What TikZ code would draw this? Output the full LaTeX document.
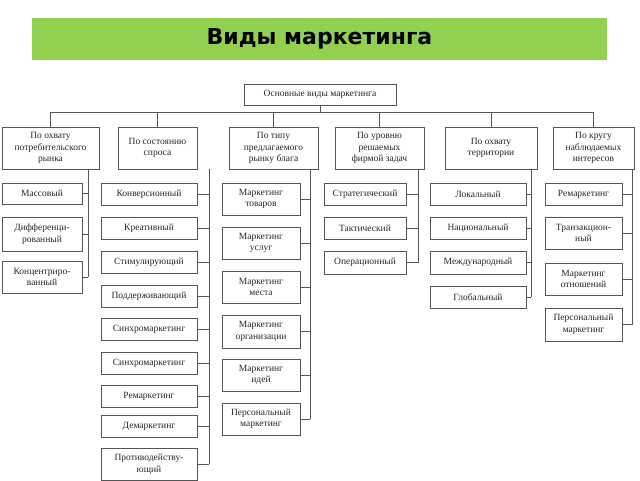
\documentclass[tikz,border=0pt]{standalone}
\usepackage{fontspec}
\setmainfont{Liberation Serif}
\newfontfamily\titlefont{DejaVu Sans}
\definecolor{bannergreen}{HTML}{92D050}
\definecolor{lin}{HTML}{555555}
\newcommand{\itm}[6]{%
  \pgfmathsetmacro{\cxx}{(#2+#4)/2}\pgfmathsetmacro{\cyy}{(#3+#5)/2+1}%
  \pgfmathsetmacro{\ww}{#4-#2}\pgfmathsetmacro{\hh}{#5-#3}%
  \node[boxst,minimum width=\ww pt,minimum height=\hh pt] (#1) at (\cxx,\cyy) {#6};}
\begin{document}
\begin{tikzpicture}[x=1pt,y=-1pt,
  boxst/.style={draw=lin,line width=0.8pt,inner sep=0pt,align=center,font=\fontsize{9.5}{11.5}\selectfont,text=black!85},
  conn/.style={draw=lin,line width=0.8pt}]
\useasboundingbox (0,0) rectangle (640,480);
\node[fill=bannergreen,minimum width=575pt,minimum height=42pt,inner sep=0pt,font=\titlefont\bfseries\fontsize{22}{26}\selectfont] (title) at (319.5,39) {Виды маркетинга};
\itm{root}{244}{83}{396}{104}{Основные виды маркетинга}
\itm{c1}{2}{126}{99}{168}{По охвату\\потребительского\\рынка}
\itm{c2}{118}{126}{197}{168}{По состоянию\\спроса}
\itm{c3}{229}{126}{318}{168}{По типу\\предлагаемого\\рынку блага}
\itm{c4}{335}{126}{424}{168}{По уровню\\решаемых\\фирмой задач}
\itm{c5}{445}{126}{537}{168}{По охвату\\территории}
\itm{c6}{553}{126}{634}{168}{По кругу\\наблюдаемых\\интересов}
\coordinate (bus) at (0,112);
\draw[conn] (root.south) -- (root.south|-bus);
\draw[conn] (c1.north) -- (c1.north|-bus) -- (c6.north|-bus) -- (c6.north);
\foreach \c in {c2,c3,c4,c5} \draw[conn] (\c.north) -- (\c.north|-bus);
% column 1
\itm{a1}{2}{182}{82}{203}{Массовый}
\itm{a2}{2}{216}{82}{250}{Дифференци-\\рованный}
\itm{a3}{2}{260}{82}{292}{Концентриро-\\ванный}
% column 2
\itm{b1}{101}{182}{197}{204}{Конверсионный}
\itm{b2}{101}{216}{197}{238}{Креативный}
\itm{b3}{101}{250}{197}{272}{Стимулирующий}
\itm{b4}{101}{284}{197}{306}{Поддерживающий}
\itm{b5}{101}{317}{197}{339}{Синхромаркетинг}
\itm{b6}{101}{351}{197}{373}{Синхромаркетинг}
\itm{b7}{101}{384}{197}{406}{Ремаркетинг}
\itm{b8}{101}{414}{197}{436}{Демаркетинг}
\itm{b9}{101}{447}{197}{479}{Противодейству-\\ющий}
% column 3
\itm{d1}{222}{182}{300}{214}{Маркетинг\\товаров}
\itm{d2}{222}{226}{300}{258}{Маркетинг\\услуг}
\itm{d3}{222}{270}{300}{302}{Маркетинг\\места}
\itm{d4}{222}{314}{300}{347}{Маркетинг\\организации}
\itm{d5}{222}{358}{300}{390}{Маркетинг\\идей}
\itm{d6}{222}{402}{300}{434}{Персональный\\маркетинг}
% column 4
\itm{e1}{324}{182}{406}{204}{Стратегический}
\itm{e2}{324}{216}{406}{238}{Тактический}
\itm{e3}{324}{250}{406}{273}{Операционный}
% column 5
\itm{f1}{430}{182}{526}{204}{Локальный}
\itm{f2}{430}{216}{526}{238}{Национальный}
\itm{f3}{430}{250}{526}{273}{Международный}
\itm{f4}{430}{285}{526}{307}{Глобальный}
% column 6
\itm{g1}{545}{182}{622}{204}{Ремаркетинг}
\itm{g2}{545}{216}{622}{248}{Транзакцион-\\ный}
\itm{g3}{545}{262}{622}{294}{Маркетинг\\отношений}
\itm{g4}{545}{307}{622}{340}{Персональный\\маркетинг}
% spines
\coordinate (s1) at (88,169);
\coordinate (s2) at (209,169);
\coordinate (s3) at (310,169);
\coordinate (s4) at (418,169);
\coordinate (s5) at (531,169);
\coordinate (s6) at (632,169);
\draw[conn] (s1) -- (s1|-a3.east);
\foreach \n in {a1,a2,a3} \draw[conn] (\n.east) -- (\n.east-|s1);
\draw[conn] (s2) -- (s2|-b9.east);
\foreach \n in {b1,b2,b3,b4,b5,b6,b7,b8,b9} \draw[conn] (\n.east) -- (\n.east-|s2);
\draw[conn] (s3) -- (s3|-d6.east);
\foreach \n in {d1,d2,d3,d4,d5,d6} \draw[conn] (\n.east) -- (\n.east-|s3);
\draw[conn] (s4) -- (s4|-e3.east);
\foreach \n in {e1,e2,e3} \draw[conn] (\n.east) -- (\n.east-|s4);
\draw[conn] (s5) -- (s5|-f4.east);
\foreach \n in {f1,f2,f3,f4} \draw[conn] (\n.east) -- (\n.east-|s5);
\draw[conn] (s6) -- (s6|-g4.east);
\foreach \n in {g1,g2,g3,g4} \draw[conn] (\n.east) -- (\n.east-|s6);
\end{tikzpicture}
\end{document}
